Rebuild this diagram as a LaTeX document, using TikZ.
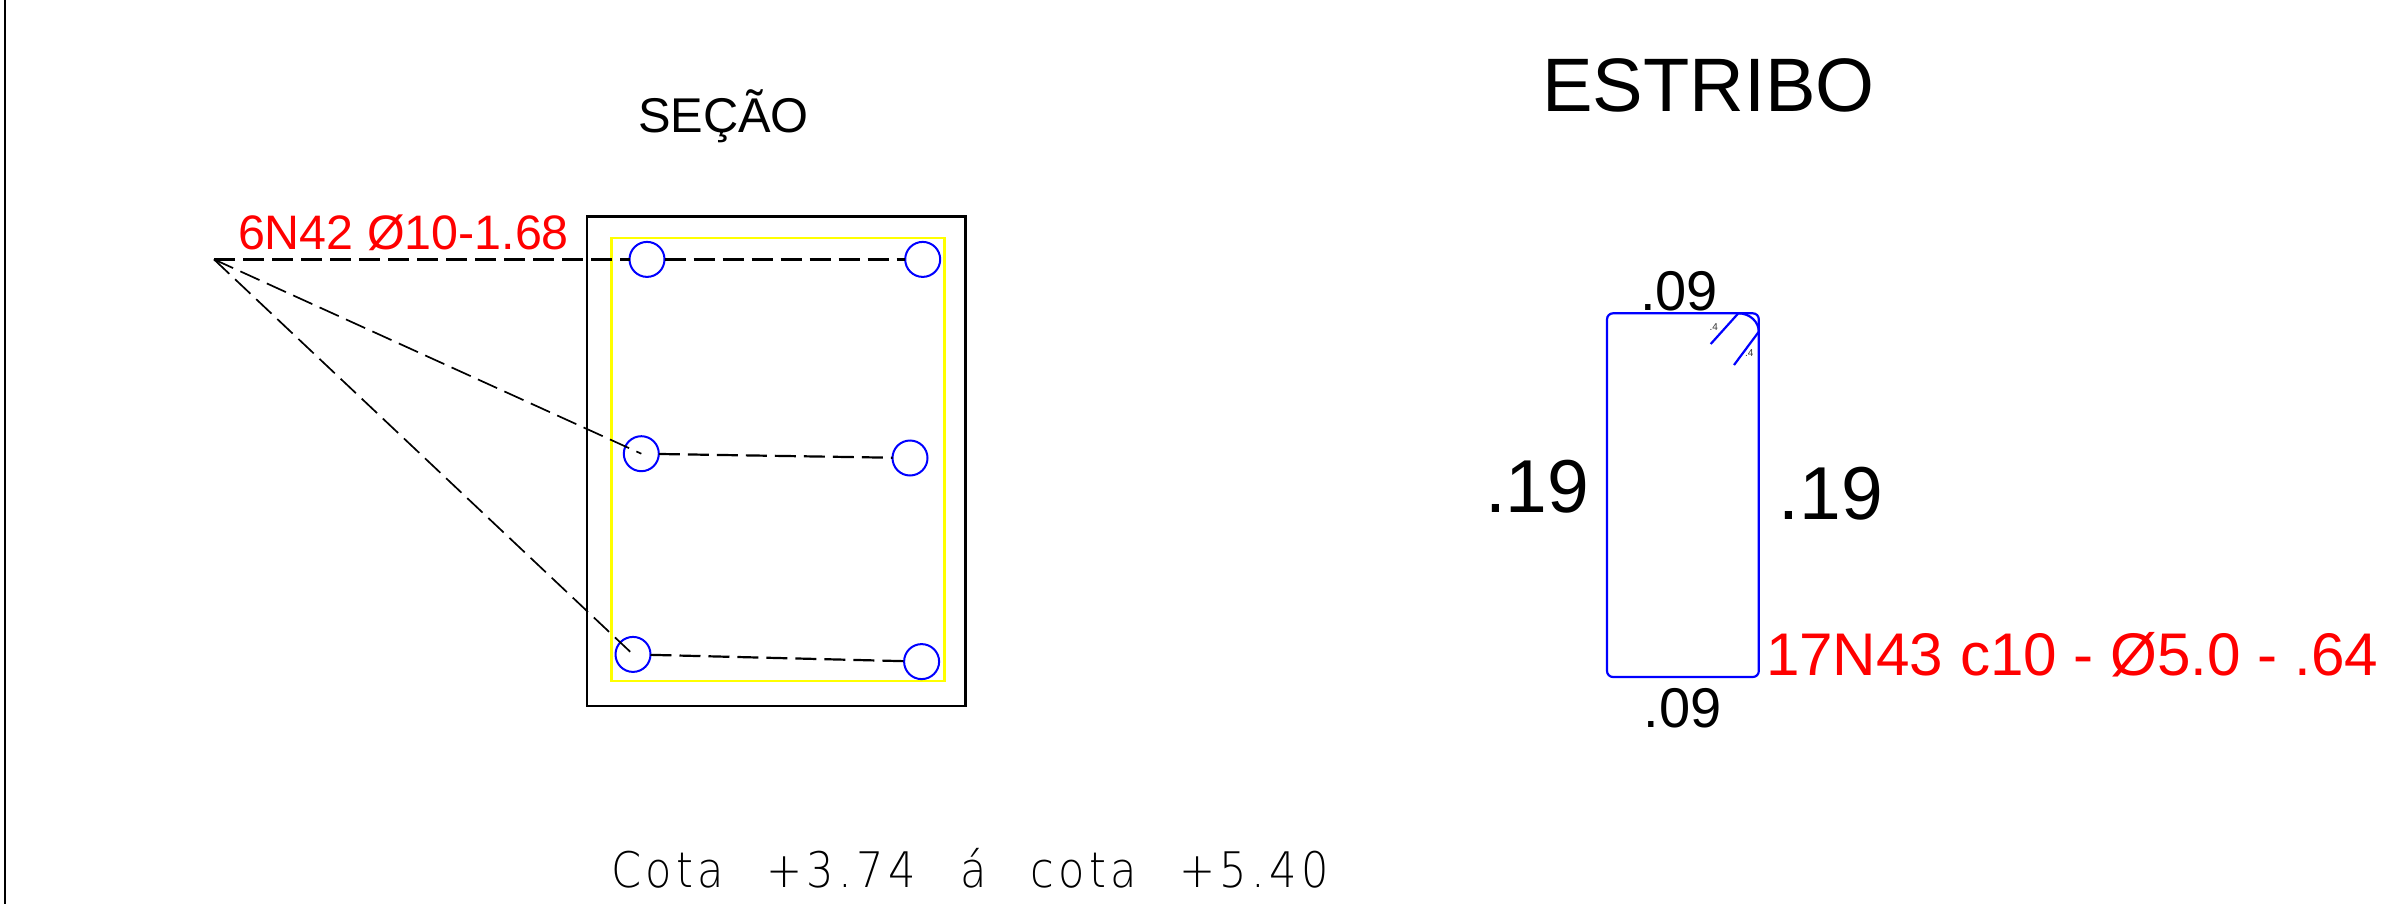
\documentclass[tikz,border=0pt]{standalone}
\usepackage{fontspec}
\setmainfont{Liberation Sans}
\newfontfamily\cadfont[FakeStretch=0.88,LetterSpace=9]{DejaVu Sans ExtraLight}
\definecolor{cadred}{RGB}{255,0,0}
\definecolor{cadblue}{RGB}{0,0,255}
\definecolor{cadyellow}{RGB}{255,255,0}
\tikzset{
  x=0.5pt,y=-0.5pt,
  lbl/.style={anchor=base west,inner sep=0pt,outer sep=0pt},
  bar/.style={circle,draw=cadblue,line width=1pt,minimum size=17.5pt,inner sep=0pt,outer sep=0pt},
  leader/.style={draw=black,line width=0.85pt,dash pattern=on 10.5pt off 4pt},
  leaderh/.style={draw=black,line width=1.1pt,dash pattern=on 10.5pt off 4pt},
  outline/.style={draw=black,line width=1.1pt},
  tie/.style={draw=cadblue,line width=1.1pt},
}
\begin{document}
\begin{tikzpicture}
\useasboundingbox (0,0) rectangle (2386,904);
\fill[white] (0,0) rectangle (2386,904);
\draw[outline,line width=1.15pt] (5,0) -- (5,904);
% section
\node[lbl,font=\fontsize{24.4}{24.4}\selectfont] (t1) at (638,133) {SEÇÃO};
\node[lbl,font=\fontsize{37.9}{37.9}\selectfont] (t2) at (1542,112) {ESTRIBO};
\draw[outline] (587,216.5) rectangle (965.5,706);
\draw[draw=cadyellow,line width=1.4pt] (611.5,238) rectangle (944.6,681);
\node[bar] (tl) at (647,259.4) {};
\node[bar] (tr) at (922.7,259.4) {};
\node[bar] (ml) at (641.3,453.7) {};
\node[bar] (mr) at (910,458) {};
\node[bar] (bl) at (633,654.4) {};
\node[bar] (br) at (921.6,661.6) {};
\coordinate (apex) at (214,259.4);
\draw[leaderh] (apex) -- (tl);
\draw[leaderh] (tl) -- (tr);
\draw[leader] (apex) -- (ml.center);
\draw[leaderh] (ml) -- (mr);
\draw[leader] (apex) -- (bl.center);
\draw[leaderh] (bl) -- (br);
\node[lbl,text=cadred,font=\fontsize{24.2}{24.2}\selectfont] (n42) at (238,249.6) {6N42 Ø10-1.68};
% stirrup
\draw[tie,rounded corners=3pt] (1607,313.3) rectangle (1758.8,677);
\coordinate (h1a) at (1738.3,313.3);
\coordinate (h1b) at (1710.7,344);
\coordinate (h2a) at (1758.8,331.7);
\coordinate (h2b) at (1734,365);
\draw[tie] (h1b) -- (h1a) .. controls (1750,313.3) and (1758.8,322) .. (h2a) -- (h2b);
\node[lbl,font=\fontsize{5}{5}\selectfont,text=black!80] (d1) at (1709.5,330) {.4};
\node[lbl,font=\fontsize{5}{5}\selectfont,text=black!80] (d2) at (1745,356) {.4};
\node[lbl,font=\fontsize{28}{28}\selectfont] (w1) at (1640,310) {.09};
\node[lbl,font=\fontsize{28}{28}\selectfont] (w2) at (1643.5,727) {.09};
\node[lbl,font=\fontsize{37.5}{37.5}\selectfont] (h1) at (1485,512.5) {.19};
\node[lbl,font=\fontsize{37.5}{37.5}\selectfont] (h2) at (1778.5,519.5) {.19};
\node[lbl,text=cadred,font=\fontsize{30.1}{30.1}\selectfont] (n43) at (1766,675) {17N43 c10 - Ø5.0 - .64};
\node[lbl,font={\cadfont\fontsize{24.5}{24.5}\selectfont}] (cota) at (611,887) {Cota\hspace{12pt} +3.74\hspace{13pt} á\hspace{13pt} cota\hspace{12pt} +5.40};
\end{tikzpicture}
\end{document}
